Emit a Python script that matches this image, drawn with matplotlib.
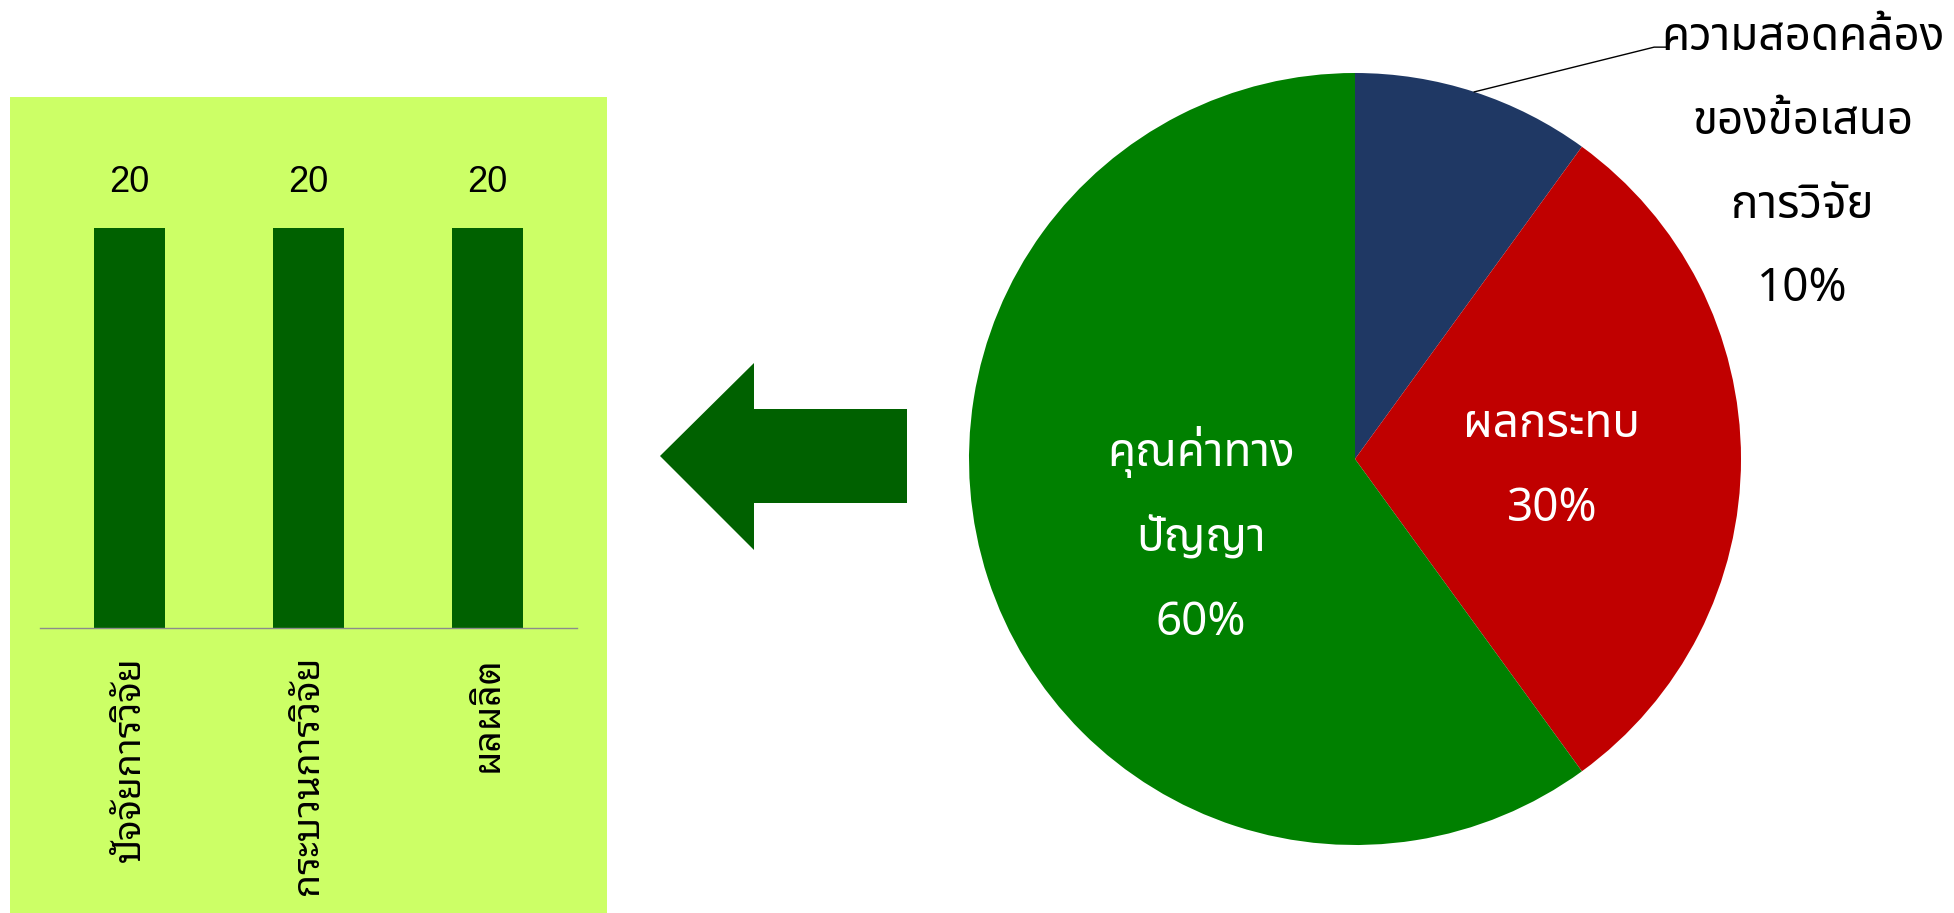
import matplotlib
matplotlib.use("Agg")
import matplotlib.pyplot as plt
from matplotlib.patches import Rectangle, Polygon
import numpy as np

# ---------------- data ----------------
bar_categories = ["ปัจจัยการวิจัย", "กระบวนการวิจัย", "ผลผลิต"]
bar_values = [20, 20, 20]

pie_labels = ["ความสอดคล้อง\nของข้อเสนอ\nการวิจัย", "ผลกระทบ", "คุณค่าทาง\nปัญญา"]
pie_values = [10, 30, 60]
pie_colors = ["#1F3864", "#C00000", "#008000"]

FAM = ["Noto Sans Thai", "DejaVu Sans"]
FAM_LOOP = ["Noto Sans Thai Looped", "Noto Sans Thai", "DejaVu Sans"]

W, H = 1954, 913
fig = plt.figure(figsize=(W / 100, H / 100), dpi=100)
fig.patch.set_facecolor("white")

# bar panel background
fig.patches.append(Rectangle((10 / W, 0), 597 / W, (H - 97) / H, transform=fig.transFigure,
                             facecolor="#CCFF66", edgecolor="none", zorder=-5))

axb = fig.add_axes([40 / W, (H - 628) / H, 537 / W, 500 / H])
axb.set_facecolor("none")
axb.set_zorder(2)
x = np.arange(len(bar_categories))
bars = axb.bar(x, bar_values, width=0.4, color="#006100")
axb.set_xlim(-0.5, len(bar_categories) - 0.5)
axb.set_ylim(0, 25)
for s in ["top", "right", "left"]:
    axb.spines[s].set_visible(False)
axb.spines["bottom"].set_color("#8C8C8C")
axb.spines["bottom"].set_linewidth(1.0)
axb.set_yticks([])
axb.set_xticks(x)
axb.set_xticklabels(bar_categories, rotation=90, fontsize=27, family=FAM_LOOP)
axb.tick_params(axis="x", length=0, pad=20)
axb.bar_label(bars, labels=[str(v) for v in bar_values], padding=20, fontsize=26,
              family="Liberation Sans")

# arrow
arrow_pts = [(660, 456), (754, 363), (754, 409), (907, 409), (907, 503), (754, 503), (754, 550)]
fig.patches.append(Polygon([(px / W, 1 - py / H) for px, py in arrow_pts], closed=True,
                           transform=fig.transFigure, facecolor="#006100", edgecolor="none"))

# pie
R = 386
cx, cy = 1355, 459
axp = fig.add_axes([(cx - R) / W, (H - cy - R) / H, 2 * R / W, 2 * R / H])
wedges, _ = axp.pie(pie_values, colors=pie_colors, startangle=90, counterclock=False,
                    radius=1, wedgeprops=dict(linewidth=0))
axp.set_xlim(-1, 1)
axp.set_ylim(-1, 1)
axp.axis("off")

tot = sum(pie_values)
texts = [f"{l}\n{round(v / tot * 100)}%" for l, v in zip(pie_labels, pie_values)]
LS = 2.08
# inside labels
axp.text(0.51, -0.02, texts[1], ha="center", va="center", color="white", fontsize=33,
         family=FAM, linespacing=LS, weight="medium")
axp.text(-0.40, -0.20, texts[2], ha="center", va="center", color="white", fontsize=33,
         family=FAM, linespacing=LS, weight="medium")
# outside label with leader
th = np.deg2rad(72)
axp.plot([np.cos(th), 0.775, 0.806], [np.sin(th), 1.067, 1.067], color="black", lw=1,
         clip_on=False)
axp.text(1.16, 0.765, texts[0], ha="center", va="center", color="black", fontsize=33,
         family=FAM, linespacing=LS, weight="semibold", clip_on=False)

fig.savefig("out.png", dpi=100)
